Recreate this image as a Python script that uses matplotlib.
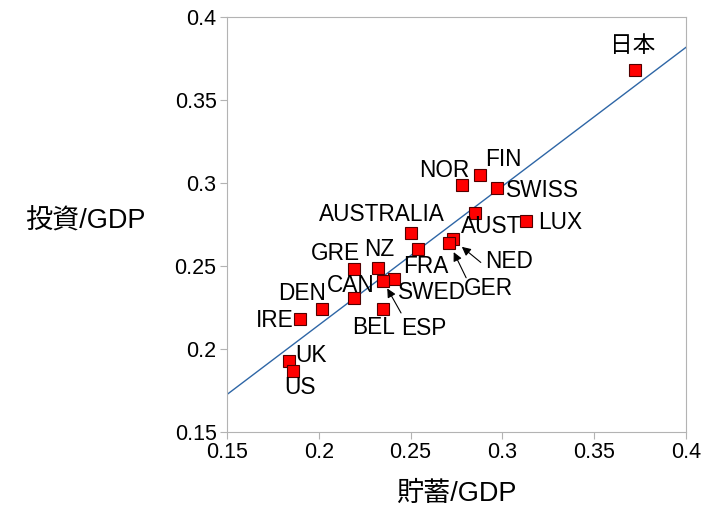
import numpy as np
import matplotlib
matplotlib.use("Agg")
from matplotlib import pyplot as plt

plt.rcParams['font.family'] = ['Liberation Sans', 'Noto Sans CJK JP']

# savings / GDP and investment / GDP per country
countries = ['日本', 'FIN', 'NOR', 'SWISS', 'AUST', 'LUX', 'AUSTRALIA', 'FRA',
             'NED', 'GER', 'GRE', 'NZ', 'SWED', 'ESP', 'CAN', 'DEN', 'BEL',
             'IRE', 'UK', 'US']
saving = [0.372, 0.288, 0.278, 0.297, 0.285, 0.313, 0.250, 0.254,
          0.273, 0.271, 0.219, 0.232, 0.241, 0.235, 0.219, 0.202, 0.235,
          0.190, 0.184, 0.186]
invest = [0.368, 0.305, 0.299, 0.297, 0.282, 0.277, 0.270, 0.260,
          0.266, 0.264, 0.248, 0.249, 0.242, 0.241, 0.231, 0.224, 0.224,
          0.218, 0.193, 0.187]
ticks = [0.15, 0.2, 0.25, 0.3, 0.35, 0.4]
tick_labels = ['0.15', '0.2', '0.25', '0.3', '0.35', '0.4']

# label offsets (pixels) from each point, and labels that use an arrow
label_off = {'日本': (-2, 25), 'FIN': (23, 15), 'NOR': (-18, 14), 'SWISS': (46, -3),
             'AUST': (16, -14), 'LUX': (34, -1), 'AUSTRALIA': (-29, 18),
             'FRA': (8, -17), 'NED': (56, -22), 'GER': (39, -46), 'GRE': (-18, 16),
             'NZ': (2, 18), 'SWED': (38, -13), 'ESP': (41, -48), 'CAN': (-3, 12),
             'DEN': (-20, 16), 'BEL': (-9, -18), 'IRE': (-26, -1), 'UK': (22, 5),
             'US': (7, -17)}
arrow_tail = {'NED': (28, -23), 'GER': (17, -35), 'ESP': (18, -32)}
arrow_gap = {'NED': 8.4, 'GER': 7.5, 'ESP': 6.2}

fig = plt.figure(figsize=(7.08, 5.08), dpi=100)
ax = fig.add_axes([0.3206, 0.1496, 0.6483, 0.8169])

#least squares line through the points
k, b = np.polyfit(saving, invest, 1)
xs = np.array([0.15, 0.4])
ax.plot(xs, k * xs + b, color='#2e66a6', lw=1.0, zorder=1)

ax.plot(saving, invest, 's', ms=8, mfc='#ff0000', mec='#500000', mew=0.8, zorder=3)

for name, x, y in zip(countries, saving, invest):
    ax.annotate(name, (x, y), xytext=label_off[name], textcoords='offset pixels',
                ha='center', va='center', fontsize=16.3, zorder=4)
    if name in arrow_tail:
        ax.annotate('', (x, y), xytext=arrow_tail[name], textcoords='offset pixels',
                    arrowprops=dict(arrowstyle='-|>', color='black', lw=0.8,
                                    mutation_scale=13, shrinkA=0,
                                    shrinkB=arrow_gap[name]))

ax.set_xlim(0.15, 0.4)
ax.set_ylim(0.15, 0.4)
ax.set_xticks(ticks)
ax.set_xticklabels(tick_labels)
ax.set_yticks(ticks)
ax.set_yticklabels(tick_labels)
ax.tick_params(labelsize=15.5, direction='out', length=5, color='#b3b3b3', pad=2.5)
for s in ax.spines.values():
    s.set_color('#b3b3b3')

fig.text(0.645, 0.028, '貯蓄/GDP', ha='center', va='center', fontsize=19.5)
fig.text(0.121, 0.563, '投資/GDP', ha='center', va='center', fontsize=19.5)

fig.savefig('out.png', dpi=100)
